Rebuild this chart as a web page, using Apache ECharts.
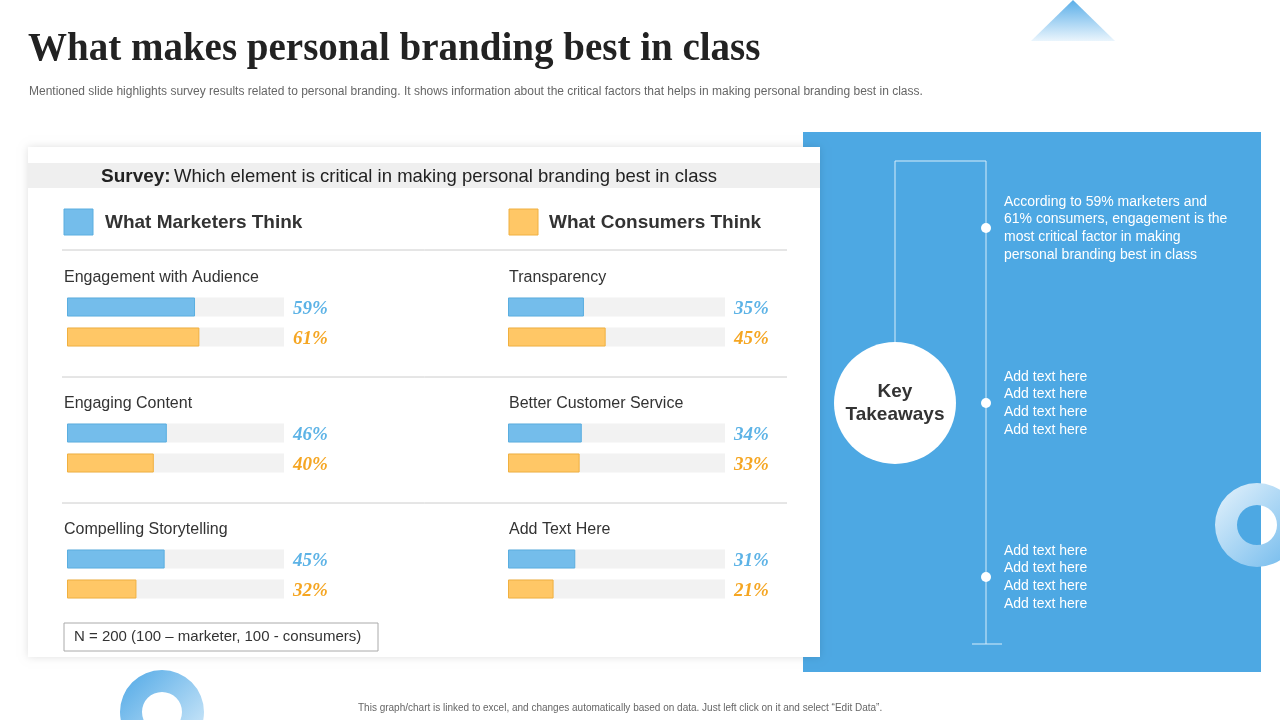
<!DOCTYPE html>
<html><head><meta charset="utf-8">
<script src="https://cdn.jsdelivr.net/npm/echarts@6/dist/echarts.min.js"></script>
<style>html,body{margin:0;padding:0;background:#fff}#c{width:1280px;height:720px}</style>
</head><body><div id="c"></div>
<script>
const factors = ["Engagement with Audience", "Transparency", "Engaging Content", "Better Customer Service", "Compelling Storytelling", "Add Text Here"];
const marketers = [59, 35, 46, 34, 45, 31];
const consumers = [61, 45, 40, 33, 32, 21];
const takeaways = [
  "According to 59% marketers and\n61% consumers, engagement is the\nmost critical factor in making\npersonal branding best in class",
  "Add text here\nAdd text here\nAdd text here\nAdd text here",
  "Add text here\nAdd text here\nAdd text here\nAdd text here"
];

const BLUE = "#74BDEB", ORANGE = "#FFC766";
const chart = echarts.init(document.getElementById("c"));

let grids = [], xAxes = [], yAxes = [], series = [], graphics = [];
factors.forEach(function (name, i) {
  const col = i % 2, row = Math.floor(i / 2);
  const left = 67 + col * 441, top = 292 + row * 126;
  grids.push({ left: left, top: top, width: 217, height: 60 });
  xAxes.push({ gridIndex: i, type: "value", min: 0, max: 100, show: false });
  yAxes.push({
    gridIndex: i, type: "category", data: ["m", "c"], inverse: true,
    axisLine: { show: true, lineStyle: { color: "#ddd" } },
    axisTick: { show: false }, axisLabel: { show: false }
  });
  const vals = [marketers[i], consumers[i]];
  series.push({
    type: "bar", xAxisIndex: i, yAxisIndex: i, barWidth: 19, z: 10,
    showBackground: true, backgroundStyle: { color: "#F2F2F2" },
    data: [
      { value: vals[0], itemStyle: { color: BLUE, borderColor: "#5AAEE0", borderWidth: 1 } },
      { value: vals[1], itemStyle: { color: ORANGE, borderColor: "#F0B040", borderWidth: 1 } }
    ]
  });
  series.push({
    type: "bar", xAxisIndex: i, yAxisIndex: i, barWidth: 19, barGap: "-100%", silent: true, z: 10,
    itemStyle: { color: "transparent" },
    label: {
      show: true, position: "right", distance: 9, offset: [0, 2],
      fontFamily: "Liberation Serif", fontStyle: "italic", fontWeight: "bold", fontSize: 19,
      formatter: function (p) { return vals[p.dataIndex] + "%"; }
    },
    data: [
      { value: 100, label: { color: "#5DB3E6" } },
      { value: 100, label: { color: "#F5A623" } }
    ]
  });
  graphics.push({ type: "text", left: left - 3 + col * 4, top: top - 22, z: 5,
    style: { text: name, font: "16px Liberation Sans", fill: "#333" } });
});

[250, 377, 503].forEach(function (y) {
  graphics.push({ type: "line", z: 5, shape: { x1: 62, y1: y, x2: 787, y2: y }, style: { stroke: "#ccc", lineWidth: 1 } });
});

chart.setOption({
  animation: false,
  grid: grids, xAxis: xAxes, yAxis: yAxes, series: series,
  graphic: [
    { type: "polygon", z: 1, shape: { points: [[1073, 0], [1115, 41], [1031, 41]] },
      style: { fill: new echarts.graphic.LinearGradient(0, 0, 0, 1, [{ offset: 0, color: "#5AAEE8" }, { offset: 1, color: "#EAF5FD" }]) } },
    { type: "ring", z: 1, shape: { cx: 162, cy: 712, r: 42, r0: 20 },
      style: { fill: new echarts.graphic.LinearGradient(0, 0, 1, 1, [{ offset: 0, color: "#4FA8E6" }, { offset: 1, color: "#DDEFFB" }]) } },
    { type: "text", z: 1, left: 28, top: 30, style: { text: "What makes personal branding best in class", font: "bold 39px Liberation Serif", fill: "#222" } },
    { type: "text", z: 1, left: 29, top: 86, style: { text: "Mentioned slide highlights survey results related to personal branding. It shows information about the critical factors that helps in making personal branding best in class.", font: "12px Liberation Sans", fill: "#666" } },
    { type: "rect", z: 1, shape: { x: 803, y: 132, width: 458, height: 540 }, style: { fill: "#4DA8E3" } },
    { type: "polyline", z: 2, shape: { points: [[895, 342], [895, 161], [986, 161], [986, 644]] }, style: { stroke: "#D6ECFA", lineWidth: 1, fill: null } },
    { type: "line", z: 2, shape: { x1: 972, y1: 644, x2: 1002, y2: 644 }, style: { stroke: "#D6ECFA", lineWidth: 1 } },
    { type: "circle", z: 2, shape: { cx: 895, cy: 403, r: 61 }, style: { fill: "#fff" } },
    { type: "text", z: 3, x: 895, y: 403, style: { text: "Key\nTakeaways", font: "bold 19px Liberation Sans", fill: "#333", align: "center", verticalAlign: "middle", lineHeight: 23 } },
    { type: "circle", z: 2, shape: { cx: 986, cy: 228, r: 5 }, style: { fill: "#fff" } },
    { type: "circle", z: 2, shape: { cx: 986, cy: 403, r: 5 }, style: { fill: "#fff" } },
    { type: "circle", z: 2, shape: { cx: 986, cy: 577, r: 5 }, style: { fill: "#fff" } },
    { type: "text", z: 2, left: 1004, top: 193, style: { text: takeaways[0], font: "14px Liberation Sans", fill: "#fff", lineHeight: 17.7 } },
    { type: "text", z: 2, left: 1004, top: 368, style: { text: takeaways[1], font: "14px Liberation Sans", fill: "#fff", lineHeight: 17.7 } },
    { type: "text", z: 2, left: 1004, top: 542, style: { text: takeaways[2], font: "14px Liberation Sans", fill: "#fff", lineHeight: 17.7 } },
    { type: "ring", z: 3, shape: { cx: 1257, cy: 525, r: 42, r0: 20 },
      style: { fill: new echarts.graphic.LinearGradient(0, 0, 1, 1, [{ offset: 0, color: "#E6F3FC" }, { offset: 1, color: "#6DB8EC" }]) } },
    { type: "rect", z: 4, shape: { x: 28, y: 147, width: 792, height: 510 }, style: { fill: "#fff", shadowBlur: 8, shadowColor: "rgba(0,0,0,0.12)" } },
    { type: "rect", z: 4, shape: { x: 28, y: 163, width: 792, height: 25 }, style: { fill: "#EFEFEF" } },
    { type: "text", z: 5, left: 101, top: 167, style: { rich: { b: { font: "bold 19px Liberation Sans", fill: "#222" }, n: { font: "18.5px Liberation Sans", fill: "#222" } }, text: "{b|Survey:} {n|Which element is critical in making personal branding best in class}" } },
    { type: "rect", z: 5, shape: { x: 64, y: 209, width: 29, height: 26 }, style: { fill: BLUE, stroke: "#5AAEE0" } },
    { type: "text", z: 5, left: 105, top: 213, style: { text: "What Marketers Think", font: "bold 19px Liberation Sans", fill: "#333" } },
    { type: "rect", z: 5, shape: { x: 509, y: 209, width: 29, height: 26 }, style: { fill: ORANGE, stroke: "#F0B040" } },
    { type: "text", z: 5, left: 549, top: 213, style: { text: "What Consumers Think", font: "bold 19px Liberation Sans", fill: "#333" } },
    { type: "rect", z: 5, shape: { x: 64, y: 623, width: 314, height: 28 }, style: { fill: "#fff", stroke: "#aaa" } },
    { type: "text", z: 5, left: 74, top: 629, style: { text: "N = 200 (100 \u2013 marketer, 100 - consumers)", font: "15px Liberation Sans", fill: "#333" } },
    { type: "text", z: 1, left: 358, top: 703, style: { text: "This graph/chart is linked to excel, and changes automatically based on data. Just left click on it and select \u201cEdit Data\u201d.", font: "10px Liberation Sans", fill: "#666" } }
  ].concat(graphics)
});
</script></body></html>
